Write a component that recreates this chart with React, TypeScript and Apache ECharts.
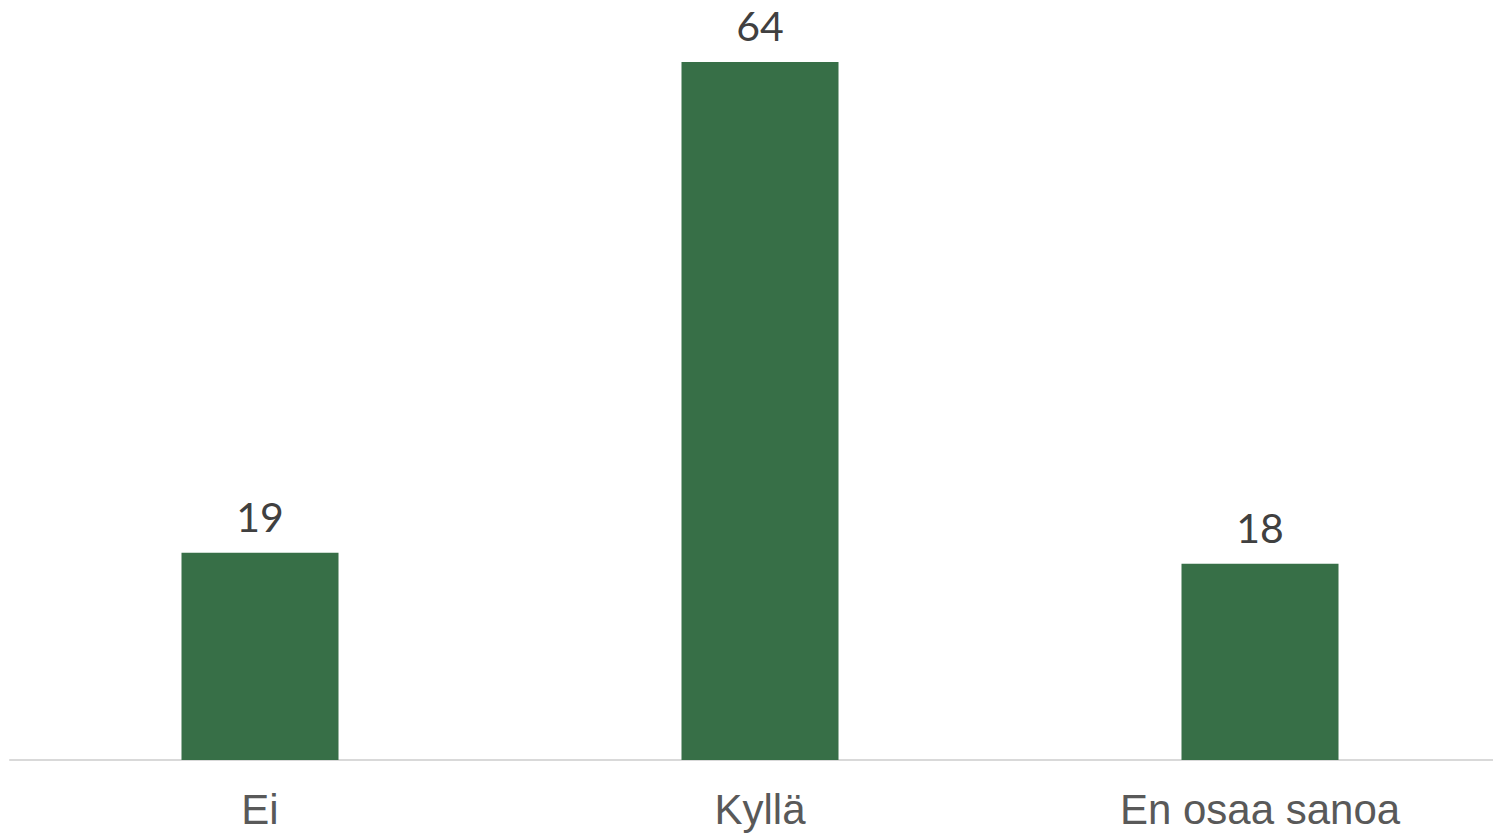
import React, { useEffect, useRef } from "react";
import * as echarts from "echarts";

const categories = ["Ei", "Kyllä", "En osaa sanoa"];
const values = [19, 64, 18];

export default function App() {
  const ref = useRef<HTMLDivElement>(null);

  useEffect(() => {
    if (!ref.current) return;
    const chart = echarts.init(ref.current, undefined, { renderer: "svg" });
    chart.setOption({
      animation: false,
      backgroundColor: "#ffffff",
      grid: { left: 10, right: 0, top: 62, bottom: 74, containLabel: false },
      xAxis: {
        type: "category",
        data: categories,
        axisLine: { show: true, lineStyle: { color: "#d9d9d9", width: 2 } },
        axisTick: { show: false },
        axisLabel: {
          color: "#595959",
          fontFamily: "'Liberation Sans', Arial, sans-serif",
          fontSize: 42,
          margin: 28,
        },
      },
      yAxis: {
        type: "value",
        min: 0,
        max: 64,
        show: false,
        splitLine: { show: false },
      },
      series: [
        {
          type: "bar",
          data: values,
          barWidth: 157,
          itemStyle: { color: "#376f47" },
          label: {
            show: true,
            position: "top",
            distance: 16,
            color: "#404040",
            fontFamily: "Lato, 'Open Sans', sans-serif",
            fontSize: 41,
          },
        },
      ],
    });
    return () => chart.dispose();
  }, []);

  // The plot runs slightly past the right edge of the visible frame.
  return (
    <div
      style={{
        position: "absolute",
        left: 0,
        top: 0,
        width: 1493,
        height: 834,
        overflow: "hidden",
        background: "#ffffff",
      }}
    >
      <div ref={ref} style={{ width: 1510, height: 834 }} />
    </div>
  );
}
